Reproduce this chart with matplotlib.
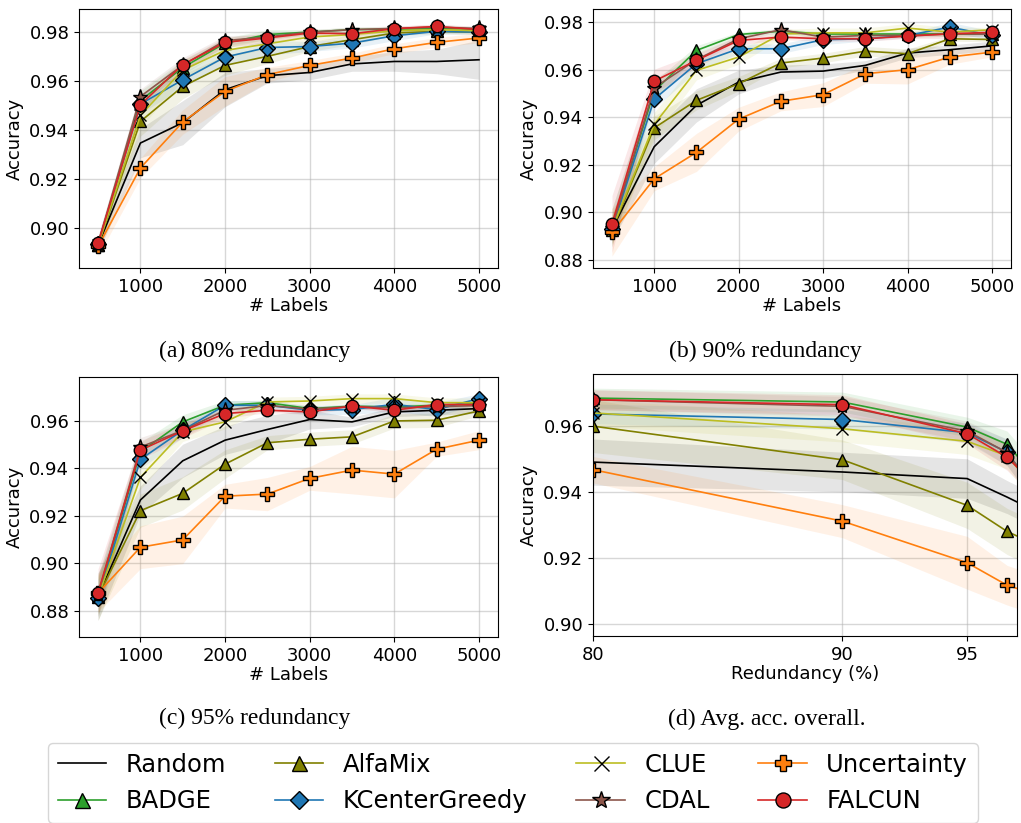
import numpy as np
import matplotlib
matplotlib.use('Agg')
import matplotlib.pyplot as plt

# x values
n_labels = [500, 1000, 1500, 2000, 2500, 3000, 3500, 4000, 4500, 5000]
redundancy = [80, 90, 95, 96.6, 98]

names = ['Random', 'BADGE', 'AlfaMix', 'KCenterGreedy', 'CLUE', 'CDAL', 'Uncertainty', 'FALCUN']

# (a) 80% redundancy
a_random = [0.8930, 0.9347, 0.9430, 0.9565, 0.9622, 0.9635, 0.9670, 0.9680, 0.9680, 0.9687]
a_badge = [0.8930, 0.9520, 0.9655, 0.9755, 0.9790, 0.9800, 0.9810, 0.9812, 0.9815, 0.9812]
a_alfamix = [0.8930, 0.9435, 0.9578, 0.9664, 0.9701, 0.9741, 0.9769, 0.9796, 0.9803, 0.9800]
a_kcg = [0.8935, 0.9506, 0.9605, 0.9698, 0.9737, 0.9741, 0.9755, 0.9785, 0.9803, 0.9800]
a_clue = [0.8930, 0.9460, 0.9645, 0.9725, 0.9752, 0.9780, 0.9790, 0.9805, 0.9810, 0.9805]
a_cdal = [0.8935, 0.9537, 0.9665, 0.9765, 0.9780, 0.9800, 0.9810, 0.9815, 0.9820, 0.9815]
a_unc = [0.8925, 0.9245, 0.9433, 0.9558, 0.9626, 0.9664, 0.9694, 0.9732, 0.9758, 0.9776]
a_falcun = [0.8939, 0.9503, 0.9667, 0.9758, 0.9776, 0.9796, 0.9793, 0.9814, 0.9823, 0.9810]

a_random_sd = [0.003, 0.006, 0.009, 0.007, 0.003, 0.003, 0.003, 0.004, 0.005, 0.008]
a_badge_sd = [0.003, 0.004, 0.003, 0.002, 0.002, 0.001, 0.001, 0.001, 0.001, 0.001]
a_alfamix_sd = [0.003, 0.006, 0.005, 0.004, 0.003, 0.002, 0.002, 0.001, 0.001, 0.001]
a_kcg_sd = [0.003, 0.004, 0.003, 0.003, 0.003, 0.002, 0.002, 0.002, 0.001, 0.001]
a_clue_sd = [0.003, 0.005, 0.004, 0.003, 0.002, 0.002, 0.001, 0.001, 0.001, 0.001]
a_cdal_sd = [0.003, 0.003, 0.003, 0.002, 0.001, 0.001, 0.001, 0.001, 0.001, 0.001]
a_unc_sd = [0.004, 0.004, 0.005, 0.006, 0.003, 0.002, 0.002, 0.002, 0.002, 0.002]
a_falcun_sd = [0.003, 0.003, 0.002, 0.002, 0.002, 0.001, 0.001, 0.001, 0.001, 0.001]

# (b) 90% redundancy
b_random = [0.8930, 0.9276, 0.9450, 0.9548, 0.9590, 0.9594, 0.9618, 0.9670, 0.9684, 0.9700]
b_badge = [0.8935, 0.9510, 0.9681, 0.9748, 0.9762, 0.9750, 0.9750, 0.9750, 0.9750, 0.9750]
b_alfamix = [0.8925, 0.9355, 0.9471, 0.9541, 0.9628, 0.9649, 0.9678, 0.9667, 0.9730, 0.9727]
b_kcg = [0.8930, 0.9476, 0.9625, 0.9688, 0.9688, 0.9726, 0.9730, 0.9744, 0.9779, 0.9744]
b_clue = [0.8930, 0.9370, 0.9597, 0.9653, 0.9750, 0.9755, 0.9755, 0.9775, 0.9758, 0.9768]
b_cdal = [0.8935, 0.9524, 0.9642, 0.9730, 0.9768, 0.9737, 0.9744, 0.9744, 0.9750, 0.9750]
b_unc = [0.8916, 0.9141, 0.9252, 0.9392, 0.9467, 0.9495, 0.9583, 0.9600, 0.9653, 0.9674]
b_falcun = [0.8951, 0.9552, 0.9639, 0.9723, 0.9737, 0.9730, 0.9730, 0.9741, 0.9751, 0.9757]

b_random_sd = [0.005, 0.007, 0.007, 0.005, 0.003, 0.003, 0.002, 0.002, 0.002, 0.002]
b_badge_sd = [0.008, 0.004, 0.002, 0.001, 0.001, 0.001, 0.001, 0.001, 0.001, 0.001]
b_alfamix_sd = [0.006, 0.005, 0.004, 0.003, 0.002, 0.002, 0.002, 0.002, 0.001, 0.001]
b_kcg_sd = [0.006, 0.004, 0.003, 0.002, 0.002, 0.002, 0.001, 0.001, 0.002, 0.002]
b_clue_sd = [0.006, 0.005, 0.004, 0.003, 0.002, 0.002, 0.002, 0.002, 0.002, 0.001]
b_cdal_sd = [0.008, 0.004, 0.002, 0.001, 0.001, 0.001, 0.001, 0.001, 0.001, 0.001]
b_unc_sd = [0.010, 0.005, 0.008, 0.005, 0.004, 0.005, 0.004, 0.006, 0.003, 0.002]
b_falcun_sd = [0.012, 0.005, 0.003, 0.002, 0.001, 0.001, 0.001, 0.001, 0.002, 0.001]

# (c) 95% redundancy
c_random = [0.8860, 0.9267, 0.9432, 0.9519, 0.9564, 0.9606, 0.9596, 0.9638, 0.9645, 0.9652]
c_badge = [0.8865, 0.9470, 0.9596, 0.9666, 0.9677, 0.9652, 0.9662, 0.9659, 0.9666, 0.9673]
c_alfamix = [0.8860, 0.9222, 0.9295, 0.9418, 0.9508, 0.9523, 0.9533, 0.9600, 0.9603, 0.9642]
c_kcg = [0.8853, 0.9438, 0.9561, 0.9666, 0.9666, 0.9645, 0.9648, 0.9670, 0.9648, 0.9694]
c_clue = [0.8860, 0.9362, 0.9554, 0.9596, 0.9680, 0.9684, 0.9694, 0.9694, 0.9677, 0.9677]
c_cdal = [0.8870, 0.9490, 0.9560, 0.9645, 0.9665, 0.9650, 0.9660, 0.9655, 0.9660, 0.9665]
c_unc = [0.8875, 0.9068, 0.9099, 0.9283, 0.9292, 0.9358, 0.9393, 0.9376, 0.9481, 0.9519]
c_falcun = [0.8877, 0.9477, 0.9558, 0.9631, 0.9645, 0.9638, 0.9663, 0.9645, 0.9669, 0.9669]

c_random_sd = [0.010, 0.006, 0.007, 0.006, 0.006, 0.004, 0.002, 0.002, 0.002, 0.002]
c_badge_sd = [0.008, 0.004, 0.003, 0.002, 0.001, 0.001, 0.001, 0.001, 0.001, 0.001]
c_alfamix_sd = [0.010, 0.007, 0.007, 0.006, 0.003, 0.003, 0.003, 0.003, 0.003, 0.002]
c_kcg_sd = [0.008, 0.004, 0.003, 0.002, 0.002, 0.002, 0.002, 0.003, 0.003, 0.002]
c_clue_sd = [0.008, 0.005, 0.004, 0.003, 0.002, 0.002, 0.002, 0.002, 0.002, 0.002]
c_cdal_sd = [0.008, 0.004, 0.003, 0.002, 0.001, 0.001, 0.001, 0.001, 0.001, 0.001]
c_unc_sd = [0.008, 0.009, 0.010, 0.005, 0.007, 0.005, 0.010, 0.010, 0.003, 0.004]
c_falcun_sd = [0.010, 0.004, 0.003, 0.002, 0.001, 0.001, 0.001, 0.001, 0.001, 0.001]

# (d) average over label budgets
d_random = [0.9491, 0.9461, 0.9441, 0.9385, 0.9333]
d_badge = [0.9685, 0.9673, 0.9597, 0.9545, 0.9423]
d_alfamix = [0.9600, 0.9498, 0.9360, 0.9281, 0.9232]
d_kcg = [0.9637, 0.9620, 0.9580, 0.9521, 0.9377]
d_clue = [0.9640, 0.9592, 0.9554, 0.9510, 0.9388]
d_cdal = [0.9680, 0.9660, 0.9585, 0.9520, 0.9380]
d_unc = [0.9468, 0.9312, 0.9186, 0.9118, 0.9083]
d_falcun = [0.9680, 0.9665, 0.9577, 0.9506, 0.9401]

d_random_sd = [0.007, 0.006, 0.006, 0.005, 0.005]
d_badge_sd = [0.003, 0.003, 0.003, 0.004, 0.004]
d_alfamix_sd = [0.008, 0.006, 0.007, 0.007, 0.007]
d_kcg_sd = [0.003, 0.003, 0.003, 0.004, 0.004]
d_clue_sd = [0.004, 0.004, 0.004, 0.004, 0.004]
d_cdal_sd = [0.003, 0.003, 0.003, 0.004, 0.004]
d_unc_sd = [0.004, 0.005, 0.008, 0.006, 0.006]
d_falcun_sd = [0.003, 0.003, 0.003, 0.004, 0.004]

# styles
colors = ['black', 'tab:green', 'olive', 'tab:blue', 'tab:olive', 'tab:brown', 'tab:orange', 'tab:red']
markers = [None, '^', '^', 'D', 'x', '*', 'P', 'o']
msizes = [9, 9, 9, 8, 9, 11, 10, 9]

plt.rcParams['font.size'] = 13

fig = plt.figure(figsize=(10.21, 8.23), dpi=100)


def draw(ax, x, means, sds):
    x = np.array(x)
    # bands first, lines on top
    for c, m, s in zip(colors, means, sds):
        m = np.array(m)
        s = np.array(s)
        ax.fill_between(x, m - s, m + s, color=c, alpha=0.1, lw=0)
    handles = []
    for name, c, mk, ms, m in zip(names, colors, markers, msizes, means):
        h, = ax.plot(x, m, color=c, marker=mk, markersize=ms, markeredgecolor='black',
                     markeredgewidth=1, lw=1.2, label=name)
        handles.append(h)
    ax.grid(True, color='#b0b0b0', alpha=0.5, lw=1)
    ax.set_axisbelow(True)
    ax.set_ylabel('Accuracy')
    return handles


ax_a = fig.add_axes([0.0774, 0.6744, 0.4104, 0.3146])
draw(ax_a, n_labels,
     [a_random, a_badge, a_alfamix, a_kcg, a_clue, a_cdal, a_unc, a_falcun],
     [a_random_sd, a_badge_sd, a_alfamix_sd, a_kcg_sd, a_clue_sd, a_cdal_sd, a_unc_sd, a_falcun_sd])
ax_a.set_ylim(0.8837, 0.9894)
ax_a.set_xlim(275, 5225)
ax_a.set_xticks([1000, 2000, 3000, 4000, 5000])
ax_a.set_yticks([0.90, 0.92, 0.94, 0.96, 0.98])
ax_a.set_xlabel('# Labels', labelpad=1)

ax_b = fig.add_axes([0.5808, 0.6744, 0.4094, 0.3146])
draw(ax_b, n_labels,
     [b_random, b_badge, b_alfamix, b_kcg, b_clue, b_cdal, b_unc, b_falcun],
     [b_random_sd, b_badge_sd, b_alfamix_sd, b_kcg_sd, b_clue_sd, b_cdal_sd, b_unc_sd, b_falcun_sd])
ax_b.set_ylim(0.8766, 0.9855)
ax_b.set_xlim(275, 5225)
ax_b.set_xticks([1000, 2000, 3000, 4000, 5000])
ax_b.set_yticks([0.88, 0.90, 0.92, 0.94, 0.96, 0.98])
ax_b.set_xlabel('# Labels', labelpad=1)

ax_c = fig.add_axes([0.0774, 0.2260, 0.4104, 0.3159])
draw(ax_c, n_labels,
     [c_random, c_badge, c_alfamix, c_kcg, c_clue, c_cdal, c_unc, c_falcun],
     [c_random_sd, c_badge_sd, c_alfamix_sd, c_kcg_sd, c_clue_sd, c_cdal_sd, c_unc_sd, c_falcun_sd])
ax_c.set_ylim(0.869, 0.9785)
ax_c.set_xlim(275, 5225)
ax_c.set_xticks([1000, 2000, 3000, 4000, 5000])
ax_c.set_yticks([0.88, 0.90, 0.92, 0.94, 0.96])
ax_c.set_xlabel('# Labels', labelpad=1)

ax_d = fig.add_axes([0.5808, 0.2272, 0.4153, 0.3184])
handles = draw(ax_d, redundancy,
               [d_random, d_badge, d_alfamix, d_kcg, d_clue, d_cdal, d_unc, d_falcun],
               [d_random_sd, d_badge_sd, d_alfamix_sd, d_kcg_sd, d_clue_sd, d_cdal_sd, d_unc_sd, d_falcun_sd])
ax_d.set_ylim(0.8964, 0.9758)
ax_d.set_xlim(80, 97)
ax_d.set_xticks([80, 90, 95])
ax_d.set_yticks([0.90, 0.92, 0.94, 0.96])
ax_d.set_xlabel('Redundancy (%)', labelpad=1)

# sub-captions
cap = dict(ha='center', va='center', family='Liberation Serif', fontsize=17)
fig.text(255 / 1021, 1 - 351 / 823, '(a) 80% redundancy', **cap)
fig.text(765 / 1021, 1 - 351 / 823, '(b) 90% redundancy', **cap)
fig.text(255 / 1021, 1 - 718 / 823, '(c) 95% redundancy', **cap)
fig.text(767 / 1021, 1 - 719 / 823, '(d) Avg. acc. overall.', **cap)

fig.legend(handles, names, ncol=4, loc='center', bbox_to_anchor=(513 / 1021, 1 - 783 / 823),
           fontsize=17.5, markerscale=1.2, handletextpad=0.8, columnspacing=2.0)

fig.savefig('out.png', dpi=100)
